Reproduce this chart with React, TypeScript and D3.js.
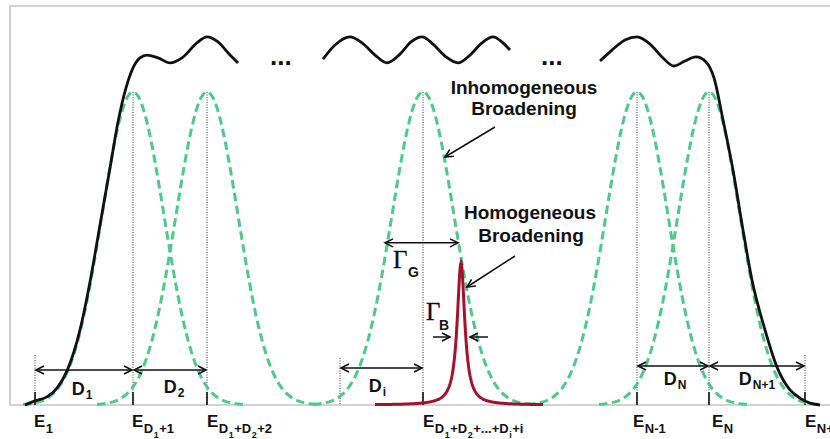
import * as d3 from "d3";

const W = 830;
const H = 439;

// energy levels along the axis (arbitrary energy units)
const levelEnergy = [25, 123, 197, 413, 627, 699, 795];
// subscript parts of each level label: [text, level]
const levelLabels: [string, number][][] = [
  [["E", 0], ["1", 1]],
  [["E", 0], ["D", 1], ["1", 2], ["+1", 1]],
  [["E", 0], ["D", 1], ["1", 2], ["+D", 1], ["2", 2], ["+2", 1]],
  [["E", 0], ["D", 1], ["1", 2], ["+D", 1], ["2", 2], ["+...+D", 1], ["i", 2], ["+i", 1]],
  [["E", 0], ["N-1", 1]],
  [["E", 0], ["N", 1]],
  [["E", 0], ["N+1", 1]],
];

// inhomogeneous (gaussian) sub-bands
const gaussCenters = [123, 197, 413, 627, 699];
const gaussSigma = 31;
const gaussHalfSpan = 110;

// homogeneous (lorentzian) line
const lorentzCenter = 451;
const lorentzGamma = 4.6;
const lorentzHeight = 0.454;
const lorentzFrom = 365;
const lorentzTo = 533;

// spacings D
const spacingFrom = [25, 123, 330, 627, 699];
const spacingTo = [123, 197, 413, 699, 795];
const spacingSub = ["1", "2", "i", "N", "N+1"];

// widths
const gammaGFrom = 375;
const gammaGTo = 448;
const gammaGLevel = 0.518;

// black envelope, three pieces [energy, intensity]
const envelopeA: [number, number][] = [
  [15, 0], [25, 0.013], [37, 0.026], [47, 0.054], [57, 0.109], [70, 0.24], [80, 0.393],
  [90, 0.575], [100, 0.757], [108, 0.904], [116, 1.013], [123, 1.077], [130, 1.109],
  [137, 1.118], [148, 1.109], [160, 1.093], [172, 1.109], [187, 1.157], [197, 1.176],
  [208, 1.16], [220, 1.118], [228, 1.093],
];
const envelopeB: [number, number][] = [
  [313, 1.105], [325, 1.15], [340, 1.176], [352, 1.157], [365, 1.118], [377, 1.093],
  [390, 1.121], [401, 1.16], [412, 1.176], [423, 1.153], [436, 1.112], [448, 1.093],
  [460, 1.118], [472, 1.157], [483, 1.176], [493, 1.157], [500, 1.134],
];
const envelopeC: [number, number][] = [
  [590, 1.099], [602, 1.134], [615, 1.166], [627, 1.176], [640, 1.153], [652, 1.112],
  [664, 1.083], [675, 1.099], [686, 1.112], [696, 1.096], [704, 1.045], [713, 0.911],
  [723, 0.751], [733, 0.559], [742, 0.399], [755, 0.24], [767, 0.121], [780, 0.048],
  [790, 0.022], [800, 0.006], [810, 0],
];

const GREEN = "#4fc88b";
const RED = "#a3122d";
const SANS = "'Liberation Sans', Arial, sans-serif";
const SERIF = "'Liberation Serif', 'Times New Roman', serif";

const x = d3.scaleLinear().domain([0, 820]).range([10, 830]);
const y = d3.scaleLinear().domain([0, 1]).range([405, 92]);

const line = d3
  .line<[number, number]>()
  .x((d) => x(d[0]))
  .y((d) => y(d[1]));

const smooth = d3
  .line<[number, number]>()
  .x((d) => x(d[0]))
  .y((d) => y(d[1]))
  .curve(d3.curveMonotoneX);

function gaussPts(c: number): [number, number][] {
  return d3
    .range(c - gaussHalfSpan, c + gaussHalfSpan + 0.5, 1)
    .map((e) => [e, Math.exp(-((e - c) ** 2) / (2 * gaussSigma * gaussSigma))]);
}

function lorentzPts(): [number, number][] {
  return d3
    .range(lorentzFrom, lorentzTo + 0.1, 0.5)
    .map((e) => [e, lorentzHeight / (1 + ((e - lorentzCenter) / lorentzGamma) ** 2)]);
}

// label layout (pixels)
const spacingArrowY = [370, 370, 368, 366, 366];
const spacingLabelY = [395, 393, 392, 385, 385];
const spacingLabelDx = [-2, 4, -4, 2, 0];
const levelLabelDx = [-1, -1, 0, 0, -4, 3, 0];
const subSize = [17, 13, 9];
const subBase = [427, 433, 438];

function Arrow({ x1, y1, x2, y2, both }: { x1: number; y1: number; x2: number; y2: number; both?: boolean }) {
  return (
    <line
      x1={x1}
      y1={y1}
      x2={x2}
      y2={y2}
      stroke="#111"
      strokeWidth={1.5}
      markerEnd="url(#head)"
      markerStart={both ? "url(#tail)" : undefined}
    />
  );
}

export default function App() {
  return (
    <svg
      width={W}
      height={H}
      style={{ position: "absolute", left: 0, top: 0, background: "#fff" }}
      fontFamily={SANS}
    >
      <defs>
        <marker id="head" viewBox="-10 -6 12 12" refX={0} refY={0} markerWidth={12} markerHeight={12}
          markerUnits="userSpaceOnUse" orient="auto">
          <path d="M-8,-4 L0,0 L-8,4" fill="none" stroke="#111" strokeWidth={1.6} />
        </marker>
        <marker id="tail" viewBox="-2 -6 12 12" refX={0} refY={0} markerWidth={12} markerHeight={12}
          markerUnits="userSpaceOnUse" orient="auto">
          <path d="M8,-4 L0,0 L8,4" fill="none" stroke="#111" strokeWidth={1.6} />
        </marker>
      </defs>

      {/* frame */}
      <path d={`M${W},6 H10 V405 H${W}`} fill="none" stroke="#c4c4c4" strokeWidth={1.5} />

      {/* dotted level lines */}
      {gaussCenters.map((c) => (
        <line key={"g" + c} x1={x(c)} x2={x(c)} y1={y(1)} y2={y(0)} stroke="#333" strokeWidth={1}
          strokeDasharray="1,1.5" />
      ))}
      {[levelEnergy[0], levelEnergy[6]].map((c) => (
        <line key={"e" + c} x1={x(c)} x2={x(c)} y1={355} y2={y(0)} stroke="#333" strokeWidth={1}
          strokeDasharray="1,1.5" />
      ))}
      <line x1={x(spacingFrom[2])} x2={x(spacingFrom[2])} y1={358} y2={y(0)} stroke="#333"
        strokeWidth={1} strokeDasharray="1,1.5" />

      {/* level ticks */}
      {levelEnergy.map((e) => (
        <line key={"t" + e} x1={x(e)} x2={x(e)} y1={392} y2={y(0)} stroke="#111" strokeWidth={1.6} />
      ))}

      {/* gaussians */}
      {gaussCenters.map((c) => (
        <path key={"gp" + c} d={line(gaussPts(c)) ?? ""} fill="none" stroke={GREEN} strokeWidth={3}
          strokeDasharray="8.5,4.5" />
      ))}

      {/* lorentzian */}
      <path d={line(lorentzPts()) ?? ""} fill="none" stroke={RED} strokeWidth={3} />

      {/* envelope */}
      {[envelopeA, envelopeB, envelopeC].map((seg, i) => (
        <path key={"env" + i} d={smooth(seg) ?? ""} fill="none" stroke="#111" strokeWidth={2.8} />
      ))}
      <text x={270} y={65} fontSize={26} fontWeight="bold" fill="#111">...</text>
      <text x={541} y={65} fontSize={26} fontWeight="bold" fill="#111">...</text>

      {/* spacing arrows */}
      {spacingFrom.map((f, i) => {
        const t = spacingTo[i];
        const ay = spacingArrowY[i];
        return (
          <g key={"sp" + i}>
            <Arrow x1={x(f) + 1} y1={ay} x2={x(t) - 1} y2={ay} both />
            <text x={(x(f) + x(t)) / 2 + spacingLabelDx[i]} y={spacingLabelY[i]} textAnchor="middle"
              fontWeight="bold" fontSize={18} fill="#111">
              D
              <tspan fontSize={12} dy={4} dx={1}>{spacingSub[i]}</tspan>
            </text>
          </g>
        );
      })}

      {/* Gamma G */}
      <Arrow x1={x(gammaGFrom)} y1={y(gammaGLevel)} x2={x(gammaGTo)} y2={y(gammaGLevel)} both />
      <text x={393} y={268} fontFamily={SERIF} fontSize={25} fill="#111" stroke="#111" strokeWidth={0.3}>
        Γ
      </text>
      <text x={408} y={277} fontWeight="bold" fontSize={14} fill="#111">G</text>

      {/* Gamma B */}
      <Arrow x1={433} y1={337} x2={450} y2={337} />
      <Arrow x1={488} y1={337} x2={470} y2={337} />
      <text x={426} y={320} fontFamily={SERIF} fontSize={25} fill="#111" stroke="#111" strokeWidth={0.3}>
        Γ
      </text>
      <text x={439} y={330} fontWeight="bold" fontSize={14} fill="#111">B</text>

      {/* annotations */}
      <text x={524} y={94} textAnchor="middle" fontWeight="bold" fontSize={19} fill="#111">
        Inhomogeneous
      </text>
      <text x={524} y={115} textAnchor="middle" fontWeight="bold" fontSize={19} fill="#111">
        Broadening
      </text>
      <Arrow x1={495} y1={127} x2={445} y2={157} />

      <text x={530} y={219} textAnchor="middle" fontWeight="bold" fontSize={19} fill="#111">
        Homogeneous
      </text>
      <text x={531} y={242} textAnchor="middle" fontWeight="bold" fontSize={19} fill="#111">
        Broadening
      </text>
      <Arrow x1={515} y1={256} x2={467} y2={287} />

      {/* level labels */}
      {levelLabels.map((parts, i) => {
        let prev = subBase[0];
        return (
          <text key={"ll" + i} x={x(levelEnergy[i]) + levelLabelDx[i]} y={subBase[0]} fontWeight="bold"
            fill="#111">
            {parts.map(([t, lv], j) => {
              const dy = subBase[lv] - prev;
              prev = subBase[lv];
              return (
                <tspan key={j} fontSize={subSize[lv]} dy={dy} dx={j === 0 ? 0 : 0.5}>
                  {t}
                </tspan>
              );
            })}
          </text>
        );
      })}
    </svg>
  );
}
